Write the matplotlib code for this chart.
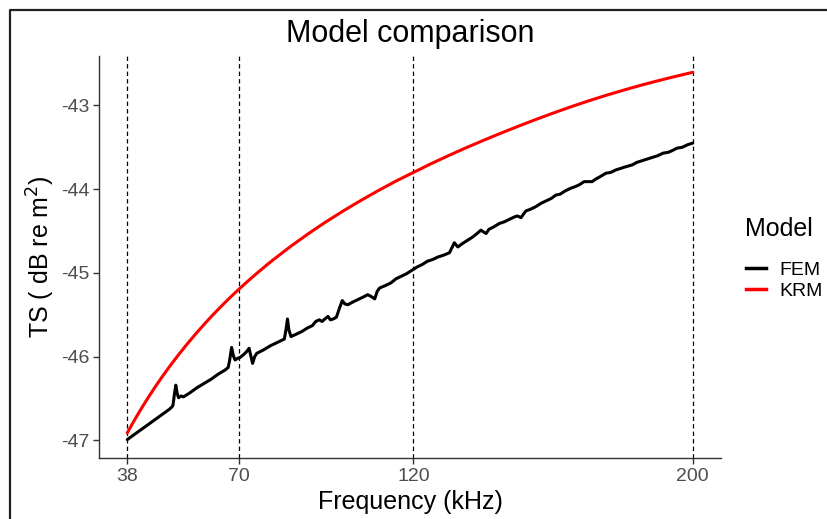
import matplotlib
matplotlib.use("Agg")
import matplotlib.pyplot as plt
from matplotlib.lines import Line2D

plt.rcParams['font.family'] = ['Liberation Sans', 'DejaVu Sans']

# FEM model target strength (dB re m^2) versus frequency (kHz)
fem_freq = [38, 40, 42, 44, 46, 48, 50, 50.8, 51.1, 51.5, 51.9, 52.3, 52.7, 53.4,
            54.1, 56, 58, 60, 62, 64, 66, 66.9, 67.3, 67.9, 68.4, 68.9, 69.6, 70.3,
            71.2, 72.2, 72.9, 73.4, 73.9, 74.5, 75.1, 77, 79, 81, 83, 83.5, 83.9,
            84.3, 84.9, 86.5, 88, 89.5, 91, 92, 93, 93.8, 94.6, 95.5, 96.2, 97,
            97.9, 98.8, 99.6, 100.3, 101.2, 102.5, 104, 105.5, 106.9, 107.8, 108.9,
            109.6, 110.3, 112, 113.5, 115, 116.5, 118, 119.5, 121, 122.5, 124,
            125.5, 127, 128.5, 130.3, 131, 131.7, 132.7, 134, 135.5, 137, 138.2,
            139.3, 140.8, 141.6, 143, 144.6, 146, 147.5, 149, 149.8, 150.8, 152.2,
            153.5, 155, 156.5, 158, 159.5, 160.8, 162, 163.5, 165, 166.3, 167.4,
            168.9, 170, 171.2, 172.2, 173.5, 175.1, 176.5, 178, 179.5, 181, 182.7,
            184, 185.5, 187, 188.4, 190, 191.5, 193, 194.1, 195.5, 197, 198.5, 200]
fem_ts = [-46.99, -46.93, -46.87, -46.81, -46.75, -46.69, -46.63, -46.60, -46.58,
          -46.45, -46.34, -46.44, -46.49, -46.47, -46.48, -46.43, -46.37, -46.32,
          -46.27, -46.21, -46.16, -46.13, -46.05, -45.89, -45.99, -46.04, -46.02,
          -46.01, -45.98, -45.94, -45.90, -45.99, -46.08, -46.00, -45.96, -45.92,
          -45.87, -45.83, -45.79, -45.67, -45.55, -45.68, -45.76, -45.73, -45.70,
          -45.66, -45.63, -45.58, -45.56, -45.58, -45.55, -45.52, -45.56, -45.55,
          -45.53, -45.42, -45.33, -45.37, -45.38, -45.35, -45.32, -45.29, -45.26,
          -45.28, -45.31, -45.22, -45.18, -45.15, -45.12, -45.07, -45.04, -45.01,
          -44.97, -44.93, -44.90, -44.86, -44.84, -44.81, -44.79, -44.76, -44.70,
          -44.64, -44.69, -44.65, -44.61, -44.57, -44.53, -44.49, -44.53, -44.48,
          -44.45, -44.41, -44.39, -44.36, -44.33, -44.32, -44.34, -44.26, -44.24,
          -44.21, -44.17, -44.14, -44.11, -44.07, -44.06, -44.02, -43.99, -43.97,
          -43.95, -43.91, -43.91, -43.91, -43.88, -43.85, -43.81, -43.80, -43.77,
          -43.75, -43.73, -43.71, -43.68, -43.66, -43.64, -43.62, -43.60, -43.57,
          -43.56, -43.54, -43.51, -43.50, -43.47, -43.45]

# KRM model target strength
krm_freq = [38, 40, 42, 44, 46, 48, 50, 52.5, 55, 57.5, 60, 62.5, 65, 67.5, 70,
            72.5, 75, 77.5, 80, 85, 90, 95, 100, 105, 110, 115, 120, 125, 130,
            135, 140, 145, 150, 155, 160, 165, 170, 175, 180, 185, 190, 195, 200]
krm_ts = [-46.910, -46.762, -46.621, -46.488, -46.361, -46.240, -46.124, -45.987,
          -45.857, -45.733, -45.615, -45.502, -45.395, -45.292, -45.194, -45.100,
          -45.009, -44.921, -44.837, -44.677, -44.528, -44.388, -44.257, -44.133,
          -44.015, -43.903, -43.800, -43.697, -43.600, -43.507, -43.418, -43.332,
          -43.249, -43.169, -43.092, -43.018, -42.948, -42.882, -42.820, -42.761,
          -42.706, -42.654, -42.605]

ref_freqs = [38, 70, 120, 200]
y_ticks = [-47, -46, -45, -44, -43]

W, H = 827, 519
fig = plt.figure(figsize=(W / 100, H / 100), dpi=100)
ax = fig.add_axes([99 / W, 1 - 458 / H, (721 - 99) / W, (458 - 56) / H])

for f in ref_freqs:
    ax.axvline(f, color='black', lw=0.9, ls=(0, (3.5, 2.5)), zorder=1)

ax.plot(fem_freq, fem_ts, color='black', lw=2.2, zorder=3,
        solid_joinstyle='round', solid_capstyle='round')
ax.plot(krm_freq, krm_ts, color='#FF0000', lw=2.2, zorder=3,
        solid_joinstyle='round', solid_capstyle='round')

ax.set_xlim(29.9, 208.1)
ax.set_ylim(-47.21, -42.41)
ax.set_xticks(ref_freqs)
ax.set_yticks(y_ticks)
ax.set_yticklabels([str(v) for v in y_ticks])

for side in ('top', 'right'):
    ax.spines[side].set_visible(False)
for side in ('left', 'bottom'):
    ax.spines[side].set_color('#333333')
    ax.spines[side].set_linewidth(1.0)
ax.tick_params(axis='both', colors='#333333', labelcolor='#4D4D4D',
               labelsize=14, length=4, width=1.0, pad=3)

ax.set_xlabel('Frequency (kHz)', fontsize=18, color='black', labelpad=4)
ax.set_ylabel(r'TS ( dB re m$^2$)', fontsize=18, color='black', labelpad=3)
ax.set_title('Model comparison', fontsize=22, color='black', pad=10)

# legend: title drawn as text, keys as a frameless legend below it
fig.text(745 / W, 1 - 229 / H, 'Model', fontsize=18, color='black',
         ha='left', va='center')
fig.legend(handles=[Line2D([], [], color='black', lw=2.5),
                    Line2D([], [], color='#FF0000', lw=2.5)],
           labels=['FEM', 'KRM'],
           loc='upper left', bbox_to_anchor=(746 / W, 1 - 261 / H),
           frameon=False, fontsize=14, borderpad=0, borderaxespad=0,
           handlelength=1.05, handletextpad=0.65, labelspacing=0.2)

# frame around the figure
fig.add_artist(Line2D([9.5 / W, 9.5 / W, 1.0], [0.0, 1 - 10 / H, 1 - 10 / H],
                      transform=fig.transFigure, color='#222222', lw=1.6))

fig.savefig('out.png', dpi=100, facecolor='white')
